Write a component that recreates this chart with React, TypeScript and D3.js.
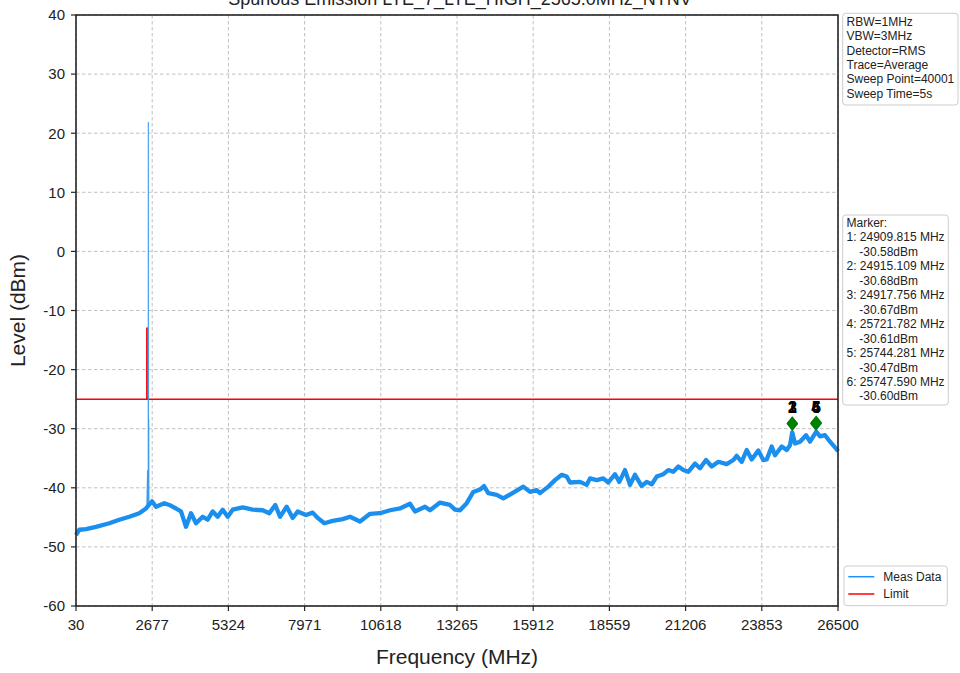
import React from "react";
import * as d3 from "d3";

const title = "Spurious Emission LTE_7_LTE_HIGH_2565.0MHz_NTNV";
const xTicks = [30, 2677, 5324, 7971, 10618, 13265, 15912, 18559, 21206, 23853, 26500];
const yTicks = [40, 30, 20, 10, 0, -10, -20, -30, -40, -50, -60];

const traceFreq = [30,145,377,725,1187,1534,1882,2229,2462,2670,2809,3097,3271,3504,3677,3851,4025,4199,4431,4605,4779,4952,5126,5300,5473,5821,6168,6516,6745,6953,7117,7349,7558,7731,8020,8252,8426,8655,8947,9295,9548,9896,10243,10590,10938,11285,11632,11806,12154,12327,12675,13022,13196,13369,13602,13831,14064,14203,14352,14644,14873,15221,15568,15801,16034,16148,16437,16670,16902,17076,17191,17538,17771,17885,18118,18347,18521,18754,18903,19101,19275,19448,19681,19855,20029,20203,20432,20606,20779,20953,21127,21300,21533,21707,21915,22113,22342,22634,22863,22981,23155,23329,23503,23732,23905,24023,24197,24312,24544,24718,24833,24910,25007,25180,25389,25528,25744,25876,26050,26223,26456,26500];
const traceLevel = [-48.0,-47.1,-47.0,-46.6,-46.0,-45.4,-44.9,-44.3,-43.5,-42.3,-43.2,-42.6,-42.9,-43.5,-44.0,-46.6,-44.3,-46.0,-44.9,-45.4,-44.0,-44.9,-43.7,-44.9,-43.7,-43.3,-43.7,-43.8,-44.3,-42.9,-44.9,-43.2,-45.1,-44.0,-44.6,-44.2,-45.1,-46.0,-45.6,-45.3,-44.9,-45.7,-44.4,-44.3,-43.8,-43.5,-42.7,-44.0,-43.2,-43.8,-42.5,-42.9,-43.7,-43.8,-42.6,-40.7,-40.3,-39.7,-40.9,-41.2,-41.8,-40.8,-39.8,-40.7,-40.4,-40.9,-39.8,-38.7,-37.8,-38.1,-39.1,-39.0,-39.5,-38.4,-38.7,-38.4,-39.1,-37.7,-39.0,-37.0,-39.5,-37.8,-39.7,-39.0,-39.4,-38.1,-37.7,-37.0,-37.3,-36.4,-37.0,-37.3,-35.9,-36.7,-35.3,-36.4,-35.6,-36.0,-35.3,-34.6,-35.6,-33.6,-35.2,-33.7,-35.3,-35.2,-33.0,-34.5,-33.0,-33.6,-32.8,-30.6,-32.5,-32.2,-31.1,-32.2,-30.5,-31.3,-31.1,-32.2,-33.5,-33.8];

const spikeFreq = [2490, 2517, 2522, 2540, 2542, 2545, 2556, 2562];
const spikeLevel = [-43.5, -37.0, -43.0, -42.5, 21.9, -28.0, -28.5, -42.3];

const limitFreq = [30, 2490, 2490, 2500, 2500, 26500];
const limitLevel = [-25, -25, -13, -13, -25, -25];

const markerFreq = [24909.815, 24915.109, 24917.756, 25721.782, 25744.281, 25747.59];
const markerLevel = [-30.58, -30.68, -30.67, -30.61, -30.47, -30.6];
const markerLabel = ["1", "2", "3", "4", "5", "6"];

const settingsLines = ["RBW=1MHz", "VBW=3MHz", "Detector=RMS", "Trace=Average", "Sweep Point=40001", "Sweep Time=5s"];
const legendNames = ["Meas Data", "Limit"];
const legendColors = ["#1e90ff", "#ff0000"];

const FONT = "'Liberation Sans', Arial, sans-serif";

export default function App() {
  const W = 960, H = 673;
  const L = 76, R = 838, T = 15, B = 606;
  const x = d3.scaleLinear().domain([30, 26500]).range([L, R]);
  const y = d3.scaleLinear().domain([-60, 40]).range([B, T]);
  const mk = (fs: number[], ls: number[]) =>
    d3.line<number>().x((f) => x(f)).y((_, i) => y(ls[i]))(fs) as string;

  const markerOffset = 1.5;
  const diamond = (cx: number, cy: number) =>
    `M${cx},${cy - 7}L${cx + 5.7},${cy}L${cx},${cy + 7}L${cx - 5.7},${cy}Z`;

  const markerLines: { text: string; indent: boolean }[] = [{ text: "Marker:", indent: false }];
  markerFreq.forEach((f, i) => {
    markerLines.push({ text: `${markerLabel[i]}: ${f.toFixed(3)} MHz`, indent: false });
    markerLines.push({ text: `${markerLevel[i].toFixed(2)}dBm`, indent: true });
  });

  return (
    <svg width={W} height={H} style={{ position: "fixed", left: 0, top: 0, background: "#fff" }} fontFamily={FONT}>
      <rect x={0} y={0} width={W} height={H} fill="#fff" />
      {xTicks.map((t) => (
        <line key={"gx" + t} x1={x(t)} x2={x(t)} y1={T} y2={B} stroke="#b0b0b0" strokeWidth={0.8} strokeDasharray="3.5,2.5" />
      ))}
      {yTicks.map((t) => (
        <line key={"gy" + t} x1={L} x2={R} y1={y(t)} y2={y(t)} stroke="#b0b0b0" strokeWidth={0.8} strokeDasharray="3.5,2.5" />
      ))}
      <path d={mk(limitFreq, limitLevel)} fill="none" stroke="#ff0000" strokeWidth={1.5} />
      <path d={mk(spikeFreq, spikeLevel)} fill="none" stroke="#3a9df0" strokeWidth={1.1} />
      <path d={mk(traceFreq, traceLevel)} fill="none" stroke="#1a8fee" strokeWidth={4.3} strokeLinejoin="round" />
      {markerFreq.map((f, i) => (
        <path key={"m" + i} d={diamond(x(f), y(markerLevel[i] + markerOffset))} fill="#008000" />
      ))}
      {markerFreq.map((f, i) => (
        <text key={"ml" + i} x={x(f)} y={413} textAnchor="middle" fontSize={16} fontWeight="bold" fill="#000">
          {markerLabel[i]}
        </text>
      ))}
      <rect x={L} y={T} width={R - L} height={B - T} fill="none" stroke="#262626" strokeWidth={1.6} />
      {xTicks.map((t) => (
        <g key={"xt" + t}>
          <line x1={x(t)} x2={x(t)} y1={B} y2={B + 5} stroke="#262626" strokeWidth={1.2} />
          <text x={x(t)} y={630} textAnchor="middle" fontSize={15} fill="#222">{t}</text>
        </g>
      ))}
      {yTicks.map((t) => (
        <g key={"yt" + t}>
          <line x1={L - 5} x2={L} y1={y(t)} y2={y(t)} stroke="#262626" strokeWidth={1.2} />
          <text x={65} y={y(t) + 5.3} textAnchor="end" fontSize={15} fill="#222">{t}</text>
        </g>
      ))}
      <text x={460} y={5} textAnchor="middle" fontSize={18} fill="#222">{title}</text>
      <text x={457} y={664} textAnchor="middle" fontSize={21} fill="#222">Frequency (MHz)</text>
      <text transform={`translate(25,${(T + B) / 2}) rotate(-90)`} textAnchor="middle" fontSize={21} fill="#222">Level (dBm)</text>
      <rect x={842.7} y={13.3} width={115.3} height={91.7} rx={3} fill="#fff" stroke="#cccccc" strokeWidth={1} />
      {settingsLines.map((s, i) => (
        <text key={"s" + i} x={846.5} y={26 + i * 14.3} fontSize={12} fill="#222">{s}</text>
      ))}
      <rect x={842.7} y={215} width={105.6} height={190} rx={3} fill="#fff" stroke="#cccccc" strokeWidth={1} />
      {markerLines.map((m, i) => (
        <text key={"mk" + i} x={m.indent ? 859.3 : 846.5} y={227 + i * 14.45} fontSize={12} fill="#222">{m.text}</text>
      ))}
      <rect x={844} y={566} width={103.3} height={39.7} rx={3} fill="#fff" stroke="#cccccc" strokeWidth={1} />
      {legendNames.map((n, i) => (
        <g key={"lg" + i}>
          <line x1={848.3} x2={874.3} y1={576.7 + i * 17.3} y2={576.7 + i * 17.3} stroke={legendColors[i]} strokeWidth={1.5} />
          <text x={883.3} y={581 + i * 17.3} fontSize={12} fill="#222">{n}</text>
        </g>
      ))}
    </svg>
  );
}
